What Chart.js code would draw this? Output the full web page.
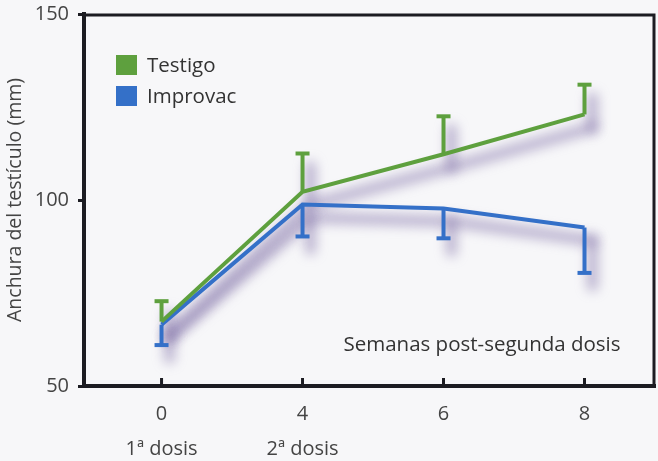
<!DOCTYPE html>
<html>
<head>
<meta charset="utf-8">
<script src="https://cdn.jsdelivr.net/npm/chart.js@4/dist/chart.umd.min.js"></script>
<style>
html,body{margin:0;padding:0;background:#f7f7f9;}
#wrap{width:658px;height:461px;position:relative;}
</style>
</head>
<body>
<div id="wrap"><canvas id="c" width="658" height="461"></canvas></div>
<script>
// ---- data ----
const categories = ['0', '4', '6', '8'];
const doseLabels = ['1ª dosis', '2ª dosis', '', ''];
const testigo = [67.3, 102.2, 112.3, 123.0];
const testigoErr = [5.5, 10.3, 10.2, 8.0];      // upward error bars
const improvac = [66.5, 98.8, 97.7, 92.6];
const improvacErr = [5.5, 8.6, 8.0, 12.2];      // downward error bars
const yTicks = [50, 100, 150];
const seriesNames = ['Testigo', 'Improvac'];
const annotationText = 'Semanas post-segunda dosis';
const yTitle = 'Anchura del testículo (mm)';

const GREEN = '#5ea03e';
const BLUE = '#3470c8';
const AXIS = '#1c1c22';
const TXT = '#444444';
const FONT = "'Open Sans', 'Noto Sans', sans-serif";

const decor = {
  id: 'decor',
  beforeDatasetsDraw(chart) {
    const ctx = chart.ctx;
    const xs = chart.scales.x, ys = chart.scales.y;
    ctx.save();
    ctx.filter = 'blur(6px)';
    ctx.strokeStyle = 'rgba(125,110,165,0.5)';
    ctx.lineWidth = 11;
    ctx.lineJoin = 'round';
    ctx.lineCap = 'round';
    const dx = 8, dy = 13;
    chart.data.datasets.forEach((ds, di) => {
      const errs = di === 0 ? testigoErr : improvacErr;
      const sign = di === 0 ? 1 : -1;
      ctx.beginPath();
      ds.data.forEach((p, i) => {
        const px = xs.getPixelForValue(p.x) + dx, py = ys.getPixelForValue(p.y) + dy;
        if (i === 0) ctx.moveTo(px, py); else ctx.lineTo(px, py);
      });
      ctx.stroke();
      ds.data.forEach((p, i) => {
        const px = xs.getPixelForValue(p.x) + dx;
        ctx.beginPath();
        ctx.moveTo(px, ys.getPixelForValue(p.y) + dy);
        ctx.lineTo(px, ys.getPixelForValue(p.y + sign * errs[i]) + dy);
        ctx.stroke();
      });
    });
    ctx.restore();
    // error bars
    ctx.save();
    chart.data.datasets.forEach((ds, di) => {
      const errs = di === 0 ? testigoErr : improvacErr;
      const sign = di === 0 ? 1 : -1;
      ctx.strokeStyle = ds.borderColor;
      ctx.lineWidth = 4;
      ds.data.forEach((p, i) => {
        const px = xs.getPixelForValue(p.x);
        const y0 = ys.getPixelForValue(p.y);
        const y1 = ys.getPixelForValue(p.y + sign * errs[i]);
        ctx.beginPath();
        ctx.moveTo(px, y0);
        ctx.lineTo(px, y1);
        ctx.stroke();
        ctx.beginPath();
        ctx.moveTo(px - 7, y1);
        ctx.lineTo(px + 7, y1);
        ctx.stroke();
      });
    });
    ctx.restore();
  },
  afterDraw(chart) {
    const ctx = chart.ctx;
    const a = chart.chartArea;
    const xs = chart.scales.x;
    ctx.save();
    // top/right frame
    ctx.strokeStyle = AXIS;
    ctx.lineWidth = 3;
    ctx.beginPath();
    ctx.moveTo(a.left, a.top + 1);
    ctx.lineTo(a.right - 1, a.top + 1);
    ctx.lineTo(a.right - 1, a.bottom);
    ctx.stroke();
    // inner x tick marks
    ctx.lineWidth = 3;
    xs.ticks.forEach(t => {
      const px = xs.getPixelForValue(t.value);
      ctx.beginPath();
      ctx.moveTo(px, a.bottom);
      ctx.lineTo(px, a.bottom - 8);
      ctx.stroke();
    });
    // legend
    ctx.font = '20.5px ' + FONT;
    ctx.textBaseline = 'middle';
    ctx.textAlign = 'left';
    chart.data.datasets.forEach((ds, i) => {
      const y = 65 + i * 31;
      ctx.fillStyle = ds.borderColor;
      ctx.fillRect(116, y - 10, 21, 20);
      ctx.fillStyle = '#333';
      ctx.fillText(ds.label, 147, y + 1);
    });
    // annotation
    ctx.textAlign = 'center';
    ctx.fillStyle = '#333';
    ctx.fillText(annotationText, 482, 345);
    ctx.restore();
  }
};

new Chart(document.getElementById('c'), {
  type: 'line',
  data: {
    datasets: [
      { label: seriesNames[0], data: testigo.map((v, i) => ({ x: i, y: v })), borderColor: GREEN, borderWidth: 4, pointRadius: 0, fill: false, tension: 0 },
      { label: seriesNames[1], data: improvac.map((v, i) => ({ x: i, y: v })), borderColor: BLUE, borderWidth: 4, pointRadius: 0, fill: false, tension: 0 }
    ]
  },
  plugins: [decor],
  options: {
    responsive: false,
    animation: false,
    layout: { padding: { top: 14, right: 3, left: 0, bottom: 0 } },
    plugins: { legend: { display: false }, tooltip: { enabled: false } },
    scales: {
      x: {
        type: 'linear',
        min: -0.55,
        max: 3.5,
        afterBuildTicks: s => { s.ticks = categories.map((c, i) => ({ value: i })); },
        afterFit: s => { s.height = 75; s.paddingLeft = 0; s.paddingRight = 0; },
        border: { display: true, color: AXIS, width: 4 },
        grid: { display: true, drawOnChartArea: false, drawTicks: true, tickLength: 8, color: 'rgba(0,0,0,0)' },
        ticks: {
          color: TXT,
          font: { family: FONT, size: 20, lineHeight: 1.75 },
          padding: 3,
          maxRotation: 0,
          callback: (v) => [categories[v], doseLabels[v]]
        }
      },
      y: {
        min: 50,
        max: 150,
        afterBuildTicks: s => { s.ticks = yTicks.map(v => ({ value: v })); },
        afterFit: s => { s.width = 84; s.paddingTop = 0; s.paddingBottom = 0; },
        border: { display: true, color: AXIS, width: 4 },
        grid: { display: true, drawOnChartArea: false, drawTicks: true, tickLength: 6, tickWidth: 3, color: AXIS },
        ticks: { color: TXT, font: { family: FONT, size: 20 }, padding: 9 },
        title: { display: true, text: yTitle, color: TXT, font: { family: FONT, size: 19.5 }, padding: { top: 4, bottom: 0 } }
      }
    }
  }
});
</script>
</body>
</html>
